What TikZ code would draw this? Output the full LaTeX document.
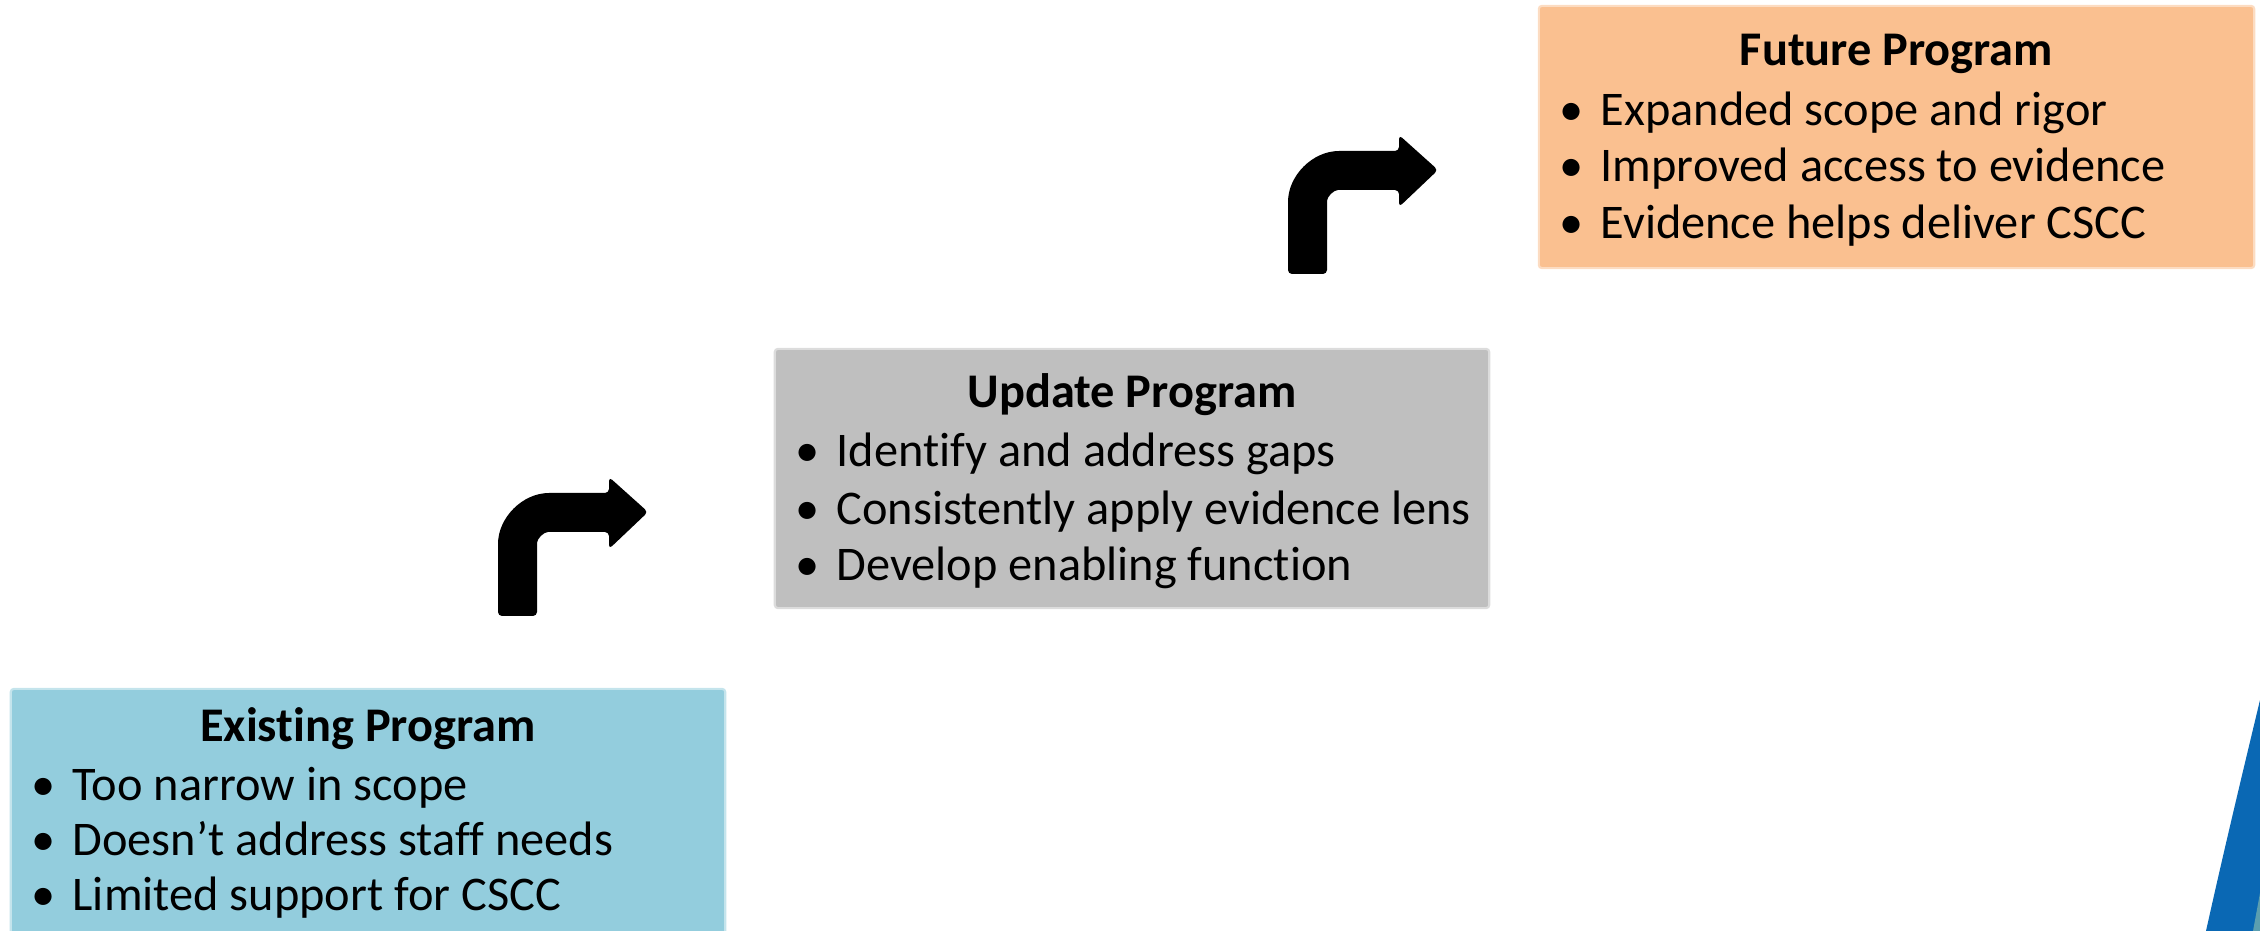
\documentclass[tikz,border=0pt]{standalone}
\usepackage{fontspec}
\setmainfont[Ligatures=NoCommon]{Carlito}
\definecolor{existfill}{HTML}{93CDDD}
\definecolor{updatefill}{HTML}{BFBFBF}
\definecolor{futurefill}{HTML}{FAC090}
\definecolor{swooshblue}{HTML}{0A68B4}
\definecolor{swooshteal}{HTML}{5B9EAF}
\newcommand{\bulletmark}{\llap{\textbullet\hspace{0.17cm}}}

\begin{document}
\begin{tikzpicture}[
  x=0.01cm,y=-0.01cm,
  box/.style={fill=#1, draw=#1!55!white, line width=0.6pt, rounded corners=0.3mm, minimum width=7.14cm, inner sep=0pt},
  title/.style={font=\fontsize{13.75}{16}\selectfont\bfseries, anchor=mid, inner sep=0pt},
  item/.style={font=\fontsize{13.75}{16}\selectfont, anchor=mid west, inner sep=0pt},
  bentarrow/.pic={
    \fill[black, rounded corners=0.4mm] (0,0) -- (0,-68) .. controls (0,-98.4) and (24.6,-123) .. (55,-123)
      -- (111,-123) -- (111,-139) -- (150,-104) -- (111,-67) -- (111,-84) -- (54,-84)
      .. controls (45.7,-84) and (39,-77.3) .. (39,-69) -- (39,0) -- cycle;
  }
]
\clip (0,0) rectangle (2260,931);

% boxes
\node[box=existfill, minimum height=2.56cm] (existing) at (368,817) {};
\node[box=updatefill, minimum height=2.59cm] (update) at (1132,478.5) {};
\node[box=futurefill, minimum width=7.15cm, minimum height=2.62cm] (future) at (1896.5,137) {};

% existing program
\node[title] (existtitle) at (368,733) {Existing Program};
\node[item] (exist1) at (72,792) {\bulletmark Too narrow in scope};
\node[item] (exist2) at (72,847) {\bulletmark Doesn’t address staff needs};
\node[item] (exist3) at (72,902) {\bulletmark Limited support for CSCC};

% update program
\node[title] (updatetitle) at (1132,399) {Update Program};
\node[item] (update1) at (836,458) {\bulletmark Identify and address gaps};
\node[item] (update2) at (836,516) {\bulletmark Consistently apply evidence lens};
\node[item] (update3) at (836,572) {\bulletmark Develop enabling function};

% future program
\node[title] (futuretitle) at (1896.5,57) {Future Program};
\node[item] (future1) at (1600,117) {\bulletmark Expanded scope and rigor};
\node[item] (future2) at (1600,173) {\bulletmark Improved access to evidence};
\node[item] (future3) at (1600,230) {\bulletmark Evidence helps deliver CSCC};

% turn arrows
\pic at (498,616) {bentarrow};
\pic at (1288,274) {bentarrow};

% corner swoosh
\fill[swooshblue] (2260,700) .. controls (2242,775) and (2224,850) .. (2206,931) -- (2260,931) -- cycle;
\fill[swooshteal] (2253,931) -- (2260,893) -- (2260,931) -- cycle;
\end{tikzpicture}
\end{document}
